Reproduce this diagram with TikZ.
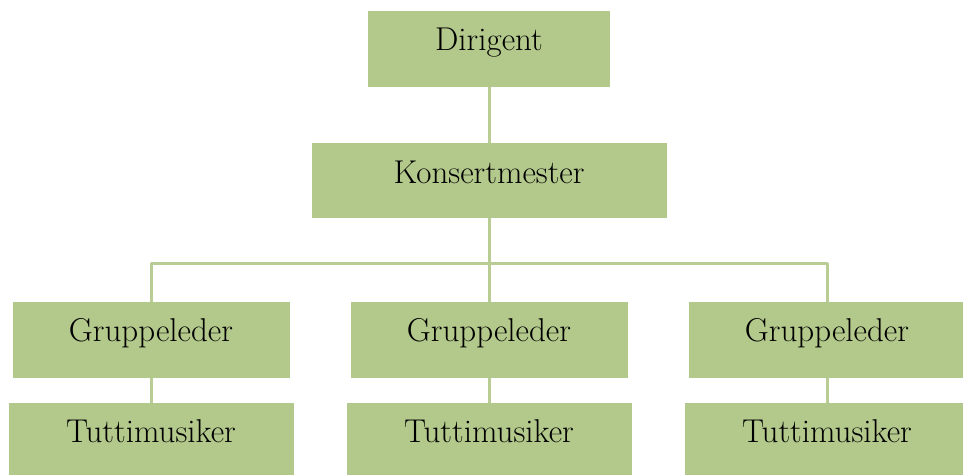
\documentclass[tikz,border=0pt]{standalone}
\usepackage{tikz}

\definecolor{boxgreen}{RGB}{179,200,139}
\definecolor{linegreen}{RGB}{184,204,148}

\begin{document}
\begin{tikzpicture}[
  x=1pt, y=-1pt,
  every node/.style={inner sep=0pt, font=\fontsize{33}{38}\selectfont},
  post/.style={rectangle, fill=boxgreen, inner sep=0pt, text height=39pt, text depth=37pt},
  topbox/.style={post, minimum width=242pt},
  midbox/.style={post, minimum width=355pt, text height=40pt, text depth=35pt},
  grpbox/.style={post, minimum width=277pt},
  tutbox/.style={post, minimum width=285pt},
  edge/.style={draw=linegreen, line width=3pt, line join=round}]

  % --- page frame, the bottom row runs off the edge ---
  \clip (0,0) rectangle (963,474);

  % --- top two levels ---
  \node[topbox] (dirigent) at (489,49)    {Dirigent};
  \node[midbox] (konsert)  at (489,180.5) {Konsertmester};

  % --- section leaders ---
  \node[grpbox] (grp1) at (151,340) {Gruppeleder};
  \node[grpbox] (grp2) at (489,340) {Gruppeleder};
  \node[grpbox] (grp3) at (827,340) {Gruppeleder};

  % --- rank-and-file players ---
  \node[tutbox] (tut1) at (151,441) {Tuttimusiker};
  \node[tutbox] (tut2) at (489,441) {Tuttimusiker};
  \node[tutbox] (tut3) at (827,441) {Tuttimusiker};

  % --- connectors ---
  \coordinate (bus) at (489,263);
  \draw[edge] (dirigent.south) -- (konsert.north);
  \draw[edge] (konsert.south) -- (bus);
  \draw[edge] (grp1.north) |- (bus) -| (grp3.north);
  \draw[edge] (bus) -- (grp2.north);
  \draw[edge] (grp1.south) -- (tut1.north);
  \draw[edge] (grp2.south) -- (tut2.north);
  \draw[edge] (grp3.south) -- (tut3.north);

\end{tikzpicture}
\end{document}
